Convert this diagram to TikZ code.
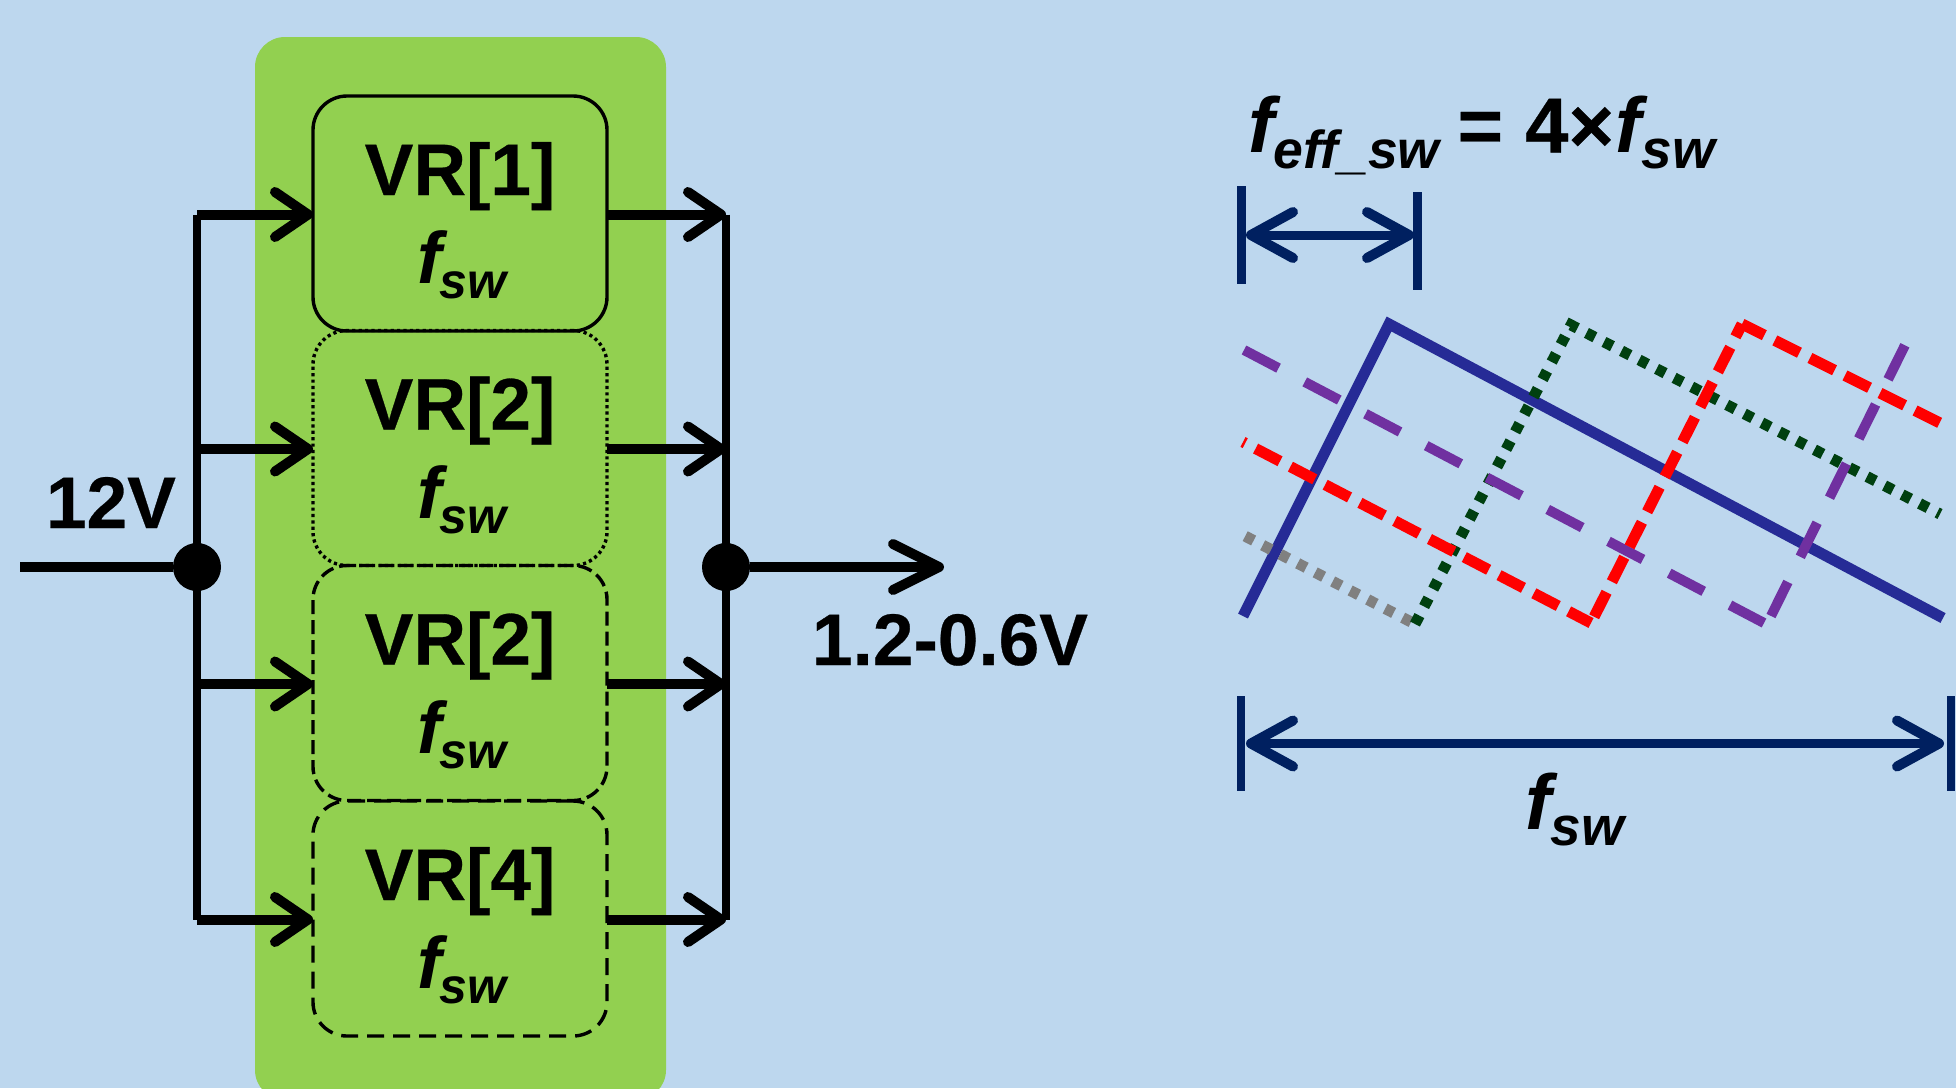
\documentclass[tikz,border=0pt]{standalone}
\usepackage{fontspec}
\setmainfont{Liberation Sans}[BoldFeatures={FakeBold=0.4}]
\usetikzlibrary{arrows.meta}
\definecolor{bgblue}{HTML}{BDD7EE}
\definecolor{panelgreen}{HTML}{92D050}
\definecolor{navy}{HTML}{002060}
\definecolor{wblue}{HTML}{262B96}
\definecolor{wgreen}{HTML}{004010}
\definecolor{wred}{HTML}{FF0000}
\definecolor{wpurple}{HTML}{7030A0}
\definecolor{wgrey}{HTML}{808080}
\newcommand{\bigtxt}{\fontsize{73}{73}\selectfont\bfseries}
\newcommand{\largetxt}{\fontsize{78}{78}\selectfont\bfseries}
\newcommand{\subtxt}[1]{\raisebox{-15pt}{\fontsize{50}{50}\selectfont\bfseries\itshape #1}}
\newcommand{\sublarge}[2][55]{\raisebox{-16pt}{\fontsize{#1}{#1}\selectfont\bfseries\itshape #2}}
\newcommand{\fswsym}{{\bigtxt\itshape f}\kern-2pt\subtxt{sw}}
\newcommand{\fswlarge}{{\largetxt\itshape f}\sublarge{sw}}
\newcommand{\vrtext}[1]{\parbox[c][235pt][t]{294pt}{\centering\bigtxt\baselineskip=88.5pt\lineskiplimit=-200pt\rule{0pt}{99pt}VR[#1]\par\hspace*{3pt}\fswsym\par}}
\tikzset{
  x=1pt,y=-1pt,
  vrbox/.style={draw=black,line width=3.4pt,rounded corners=34pt,minimum width=294pt,minimum height=235pt,inner sep=0pt,outer sep=0pt},
  bus/.style={line width=8.5pt,line cap=butt},
  feed/.style={line width=10pt,line cap=butt},
  arr/.style={line width=10pt,-{Straight Barb[length=33pt,width=45pt,round,line width=10pt]}},
  arrbig/.style={line width=10pt,-{Straight Barb[length=46pt,width=46pt,round,line width=10pt]}},
  dim/.style={draw=navy,line width=9pt,{Straight Barb[length=42pt,width=46pt,round,line width=10pt]}-{Straight Barb[length=42pt,width=46pt,round,line width=10pt]}},
  tick/.style={draw=navy,line width=8.5pt},
  junction/.style={circle,fill=black,minimum size=48pt,inner sep=0pt,outer sep=0pt},
  lbl/.style={inner sep=0pt,outer sep=0pt,font=\bigtxt},
  wave/.style={line width=11pt,line join=miter},
}
\begin{document}
\begin{tikzpicture}
\useasboundingbox (0,0) rectangle (1956,1088);
\fill[bgblue] (0,0) rectangle (1956,1088);
\fill[panelgreen,rounded corners=30pt] (255,37) rectangle (666,1100);

% boxes
\node[vrbox,dash pattern=on 14pt off 6pt] (vr3) at (460,683) {\vrtext{2}};
\node[vrbox,dash pattern=on 17pt off 9pt] (vr4) at (460,918.5) {\vrtext{4}};
\node[vrbox,dash pattern=on 3.2pt off 3.2pt] (vr2) at (460,448) {\vrtext{2}};
\node[vrbox] (vr1) at (460,213.5) {\vrtext{1}};

% junctions and buses
\node[junction] (jin) at (197,567) {};
\node[junction] (jout) at (726,567) {};
\coordinate (inp) at (20,567);
\coordinate (outp) at (944,567);
\draw[feed] (inp) -- (jin);
\draw[bus] ([yshift=-1pt]jin |- vr1.west) -- ([yshift=-1pt]jin |- vr4.west);
\draw[bus] ([yshift=-1pt]jout |- vr1.east) -- ([yshift=-1pt]jout |- vr4.east);
\foreach \n in {vr1,vr2,vr3,vr4}{
  \draw[arr] ([yshift=-1pt]jin |- \n.west) -- ([yshift=-1pt]\n.west);
  \draw[arr] ([yshift=-1pt]\n.east) -- ([yshift=-1pt]jout |- \n.east);
}
\draw[arrbig] (jout) -- (outp);

\node[lbl,anchor=base west] (vin) at (46,528) {12V};
\node[lbl,anchor=base west] (vout) at (812,665) {1.2-0.6V};

% waveforms
\coordinate (b0) at (1243,616); \coordinate (b1) at (1389,324); \coordinate (b2) at (1943,618);
\coordinate (g0) at (1241,534); \coordinate (g1) at (1415,624); \coordinate (g2) at (1571,325); \coordinate (g3) at (1940,514);
\coordinate (p0) at (1244,350); \coordinate (p1) at (1764,623); \coordinate (pr) at (1771,616); \coordinate (p2) at (1909,337);
\coordinate (r0) at (1243,442); \coordinate (r1) at (1591,623); \coordinate (r2) at (1742,324); \coordinate (r3) at (1940,423);
\draw[wave,wblue] (b0) -- (b1) -- (b2);
\draw[wave,wgrey,dash pattern=on 9.5pt off 10.2pt,dash phase=15pt] (g0) -- (g1);
\draw[wave,wgreen,dash pattern=on 9.5pt off 10.2pt] (g1) -- (g2) -- (g3);
\draw[wave,wpurple,line width=10pt,dash pattern=on 39pt off 29.6pt] (p0) -- (p1);
\draw[wave,wpurple,line width=10pt,dash pattern=on 38pt off 28pt] (pr) -- (p2);
\draw[wave,wred,dash pattern=on 27.5pt off 11.7pt,dash phase=25pt] (r0) -- (r1);
\draw[wave,wred,dash pattern=on 27.5pt off 11.7pt,dash phase=32.2pt] (r1) -- (r2);
\draw[wave,wred,dash pattern=on 27.5pt off 11.7pt,dash phase=2.5pt] (r2) -- (r3);

% dimension marks
\coordinate (t1a) at (1241.5,186); \coordinate (t1b) at (1241.5,284);
\coordinate (t2a) at (1417.5,192); \coordinate (t2b) at (1417.5,290);
\coordinate (d1a) at (1246,235); \coordinate (d1b) at (1414,235);
\draw[tick] (t1a) -- (t1b);
\draw[tick] (t2a) -- (t2b);
\draw[dim] (d1a) -- (d1b);
\coordinate (t3a) at (1241,696); \coordinate (t3b) at (1241,791);
\coordinate (t4a) at (1951,696); \coordinate (t4b) at (1951,791);
\coordinate (d2a) at (1246,743.5); \coordinate (d2b) at (1944,743.5);
\draw[tick] (t3a) -- (t3b);
\draw[tick] (t4a) -- (t4b);
\draw[dim] (d2a) -- (d2b);

\node[lbl,anchor=base west] (feq) at (1248,152.5) {{\largetxt\itshape f}\sublarge[53.5]{eff\_sw}\kern18pt{\largetxt=\kern22pt 4\kern0pt×}\kern1.5pt\fswlarge};
\node[lbl,anchor=base west] (fbot) at (1525,829) {\fswlarge};
\end{tikzpicture}
\end{document}
